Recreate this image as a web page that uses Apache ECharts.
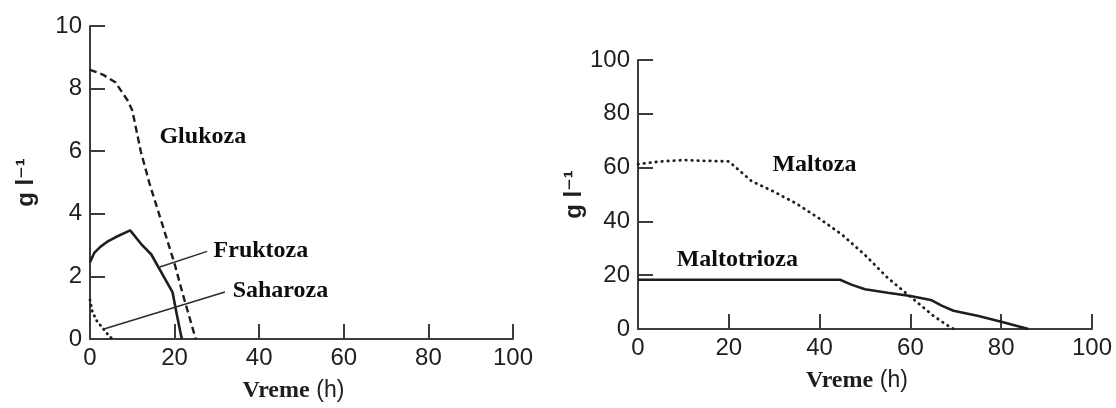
<!DOCTYPE html>
<html>
<head>
<meta charset="utf-8">
<script src="https://cdn.jsdelivr.net/npm/echarts@6/dist/echarts.min.js"></script>
<style>
html,body{margin:0;padding:0;background:#fff;}
#c{width:1116px;height:408px;}
</style>
</head>
<body>
<div id="c"></div>
<script>
// ---- data ----
const xTicks = [0, 20, 40, 60, 80, 100];
const leftYTicks = [0, 2, 4, 6, 8, 10];
const rightYTicks = [0, 20, 40, 60, 80, 100];

const glukozaT = [0, 3, 6, 9, 10, 12, 14, 17, 20, 22, 25];
const glukozaV = [8.6, 8.45, 8.2, 7.6, 7.3, 6.0, 5.0, 3.7, 2.4, 1.4, 0];

const fruktozaT = [0, 1, 2.5, 4, 6, 9.5, 12, 14.5, 17, 19.5, 20.5, 21.7];
const fruktozaV = [2.45, 2.75, 2.95, 3.1, 3.25, 3.47, 3.05, 2.7, 2.1, 1.5, 0.8, 0];

const saharozaT = [0, 0.5, 1.5, 3, 4.3, 5.3];
const saharozaV = [1.25, 0.9, 0.6, 0.35, 0.13, 0];

const maltozaT = [0, 5, 10, 15, 20, 25, 30, 35, 40, 45, 50, 55, 60, 65, 68, 69.5];
const maltozaV = [61.3, 62.3, 62.8, 62.5, 62.3, 55, 51, 46.5, 41, 35, 27.5, 19, 12, 5, 1.5, 0];

const maltotriozaT = [0, 44.5, 47, 50, 55, 60, 64.5, 67, 69.5, 75, 80, 86];
const maltotriozaV = [18.3, 18.3, 16.5, 14.8, 13.5, 12.3, 10.8, 8.6, 6.8, 4.8, 2.7, 0];

const names = ['Glukoza', 'Fruktoza', 'Saharoza', 'Maltoza', 'Maltotrioza'];
const xName = ['Vreme', '(h)'];
const yName = 'g l\u207B\u00B9';

const pairs = (t, v) => t.map((x, i) => [x, v[i]]);

// ---- styles ----
const INK = '#1e1e1e';
const AXIS = '#3c3c3c';
const SERIF = '"Liberation Serif","Times New Roman",serif';
const SANS = '"Liberation Sans",Arial,"DejaVu Sans",sans-serif';

function xAxis(gridIndex) {
  return {
    type: 'value', gridIndex, min: xTicks[0], max: xTicks[xTicks.length - 1], interval: 20,
    name: '{v|' + xName[0] + '}  {h|' + xName[1] + '}',
    nameLocation: 'middle', nameGap: 40,
    nameTextStyle: {
      padding: [0, 16, 0, 0],
      rich: {
        v: { fontFamily: SERIF, fontWeight: 'bold', fontSize: 24, color: INK },
        h: { fontFamily: SANS, fontSize: 23, color: INK }
      }
    },
    axisLine: { show: true, onZero: false, lineStyle: { color: AXIS, width: 2 } },
    axisTick: { show: true, inside: true, length: 15, lineStyle: { color: AXIS, width: 2 } },
    axisLabel: { margin: 7, fontFamily: SANS, fontSize: 24, color: INK,
      formatter: v => xTicks.includes(v) ? String(v) : '' },
    splitLine: { show: false }
  };
}
function yAxis(gridIndex, ticks, gap) {
  return {
    type: 'value', gridIndex, min: ticks[0], max: ticks[ticks.length - 1], interval: ticks[1] - ticks[0],
    name: yName, nameLocation: 'middle', nameGap: gap,
    nameTextStyle: { fontFamily: SANS, fontWeight: 'bold', fontSize: 24, color: INK },
    axisLine: { show: true, onZero: false, lineStyle: { color: AXIS, width: 2 } },
    axisTick: { show: true, inside: true, length: 15, lineStyle: { color: AXIS, width: 2 } },
    axisLabel: { margin: 8, fontFamily: SANS, fontSize: 24, color: INK },
    splitLine: { show: false }
  };
}
function curve(name, data, gi, dash, width, cap) {
  return {
    name, type: 'line', xAxisIndex: gi, yAxisIndex: gi, data, showSymbol: false, symbol: 'none',
    smooth: false, silent: true, z: 3,
    lineStyle: { color: INK, width, type: dash, cap: cap || 'butt' }
  };
}
function tag(text, x, y, gi) {
  return {
    type: 'line', xAxisIndex: gi, yAxisIndex: gi, symbol: 'circle', symbolSize: 1, showSymbol: true,
    silent: true, z: 5,
    itemStyle: { color: 'rgba(255,255,255,0)', opacity: 1 },
    lineStyle: { width: 0 },
    data: [[x, y]],
    labelLayout: { hideOverlap: false },
    label: { show: true, position: 'right', distance: 0, formatter: text, opacity: 1,
      fontFamily: SERIF, fontWeight: 'bold', fontSize: 24, color: '#0d0d0d' }
  };
}
function leader(data, gi) {
  return { type: 'line', xAxisIndex: gi, yAxisIndex: gi, data, symbol: 'none', silent: true, z: 4,
    lineStyle: { color: '#2a2a2a', width: 1.5 } };
}

const chart = echarts.init(document.getElementById('c'), null, { renderer: 'canvas' });
chart.setOption({
  animation: false,
  backgroundColor: '#fff',
  grid: [
    { left: 90, top: 26, width: 423, height: 318 },
    { left: 638, top: 60, width: 454, height: 269 }
  ],
  xAxis: [xAxis(0), xAxis(1)],
  yAxis: [yAxis(0, leftYTicks, 52), yAxis(1, rightYTicks, 49)],
  series: [
    curve(names[0], pairs(glukozaT, glukozaV), 0, [7, 4], 2.4),
    curve(names[1], pairs(fruktozaT, fruktozaV), 0, 'solid', 2.6),
    curve(names[2], pairs(saharozaT, saharozaV), 0, [0.5, 5], 2.8, 'round'),
    curve(names[3], pairs(maltozaT, maltozaV), 1, [0.5, 5.5], 2.8, 'round'),
    curve(names[4], pairs(maltotriozaT, maltotriozaV), 1, 'solid', 2.6),
    leader([[16.5, 2.3], [27.7, 2.8]], 0),
    leader([[3.1, 0.31], [31.9, 1.5]], 0),
    tag(names[0], 16.3, 6.45, 0),
    tag(names[1], 29.1, 2.83, 0),
    tag(names[2], 33.6, 1.54, 0),
    tag(names[3], 29.5, 61, 1),
    tag(names[4], 8.4, 25.7, 1)
  ]
});
</script>
</body>
</html>
